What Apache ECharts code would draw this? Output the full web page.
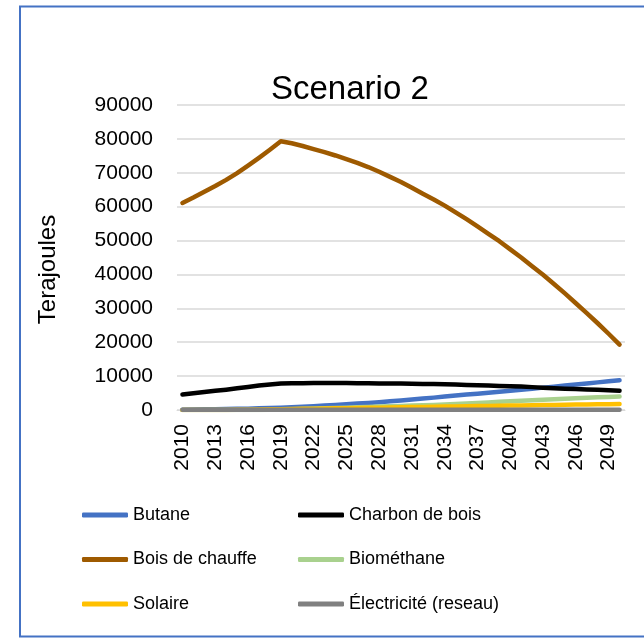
<!DOCTYPE html>
<html>
<head>
<meta charset="utf-8">
<script src="https://cdn.jsdelivr.net/npm/echarts@6/dist/echarts.min.js"></script>
<style>
  html, body { margin: 0; padding: 0; background: #fff; }
  #chart { width: 644px; height: 639px; }
</style>
</head>
<body>
<div id="chart"></div>
<script>
const years = [];
for (let y = 2010; y <= 2050; y++) years.push(String(y));

const yTicks = [0, 10000, 20000, 30000, 40000, 50000, 60000, 70000, 80000, 90000];

const butane = [100, 150, 200, 250, 300, 350, 400, 480, 560, 650,
  800, 950, 1100, 1300, 1500, 1700, 1900, 2100, 2300, 2550,
  2800, 3100, 3400, 3650, 3950, 4250, 4550, 4800, 5100, 5400,
  5700, 6000, 6300, 6600, 6900, 7200, 7500, 7850, 8150, 8500, 8800];

const charbon = [4600, 4950, 5300, 5650, 6000, 6400, 6800, 7200, 7550, 7850,
  7900, 7900, 7950, 7950, 7950, 7950, 7900, 7900, 7850, 7850,
  7800, 7750, 7700, 7650, 7600, 7500, 7400, 7300, 7200, 7100,
  7000, 6900, 6750, 6600, 6450, 6300, 6200, 6050, 5950, 5800, 5700];

const bois = [61100, 62700, 64400, 66100, 67900, 69900, 72100, 74400, 76800, 79300,
  78700, 77900, 77000, 76100, 75100, 74000, 72900, 71700, 70300, 68800,
  67300, 65600, 63800, 62100, 60300, 58300, 56300, 54200, 52000, 49800,
  47400, 45000, 42400, 39900, 37200, 34400, 31500, 28600, 25600, 22500, 19300];

const biomethane = [0, 0, 0, 0, 0, 0, 0, 0, 50, 100,
  200, 300, 400, 500, 600, 700, 800, 900, 1000, 1100,
  1200, 1300, 1400, 1500, 1650, 1800, 1950, 2100, 2250, 2400,
  2550, 2700, 2850, 3000, 3150, 3300, 3450, 3600, 3750, 3850, 3950];

const solaire = [0, 0, 0, 0, 0, 50, 100, 150, 200, 250,
  300, 350, 400, 450, 500, 550, 600, 650, 700, 750,
  800, 850, 900, 950, 1000, 1050, 1100, 1150, 1200, 1250,
  1300, 1350, 1400, 1450, 1500, 1550, 1600, 1650, 1700, 1700, 1750];

const electricite = [50, 50, 50, 50, 50, 50, 50, 50, 50, 50,
  50, 50, 50, 50, 50, 50, 50, 50, 50, 50,
  50, 50, 50, 50, 50, 50, 50, 50, 50, 50,
  50, 50, 50, 50, 50, 50, 50, 50, 50, 50, 50];

const names = ['Butane', 'Charbon de bois', 'Bois de chauffe', 'Biométhane', 'Solaire', 'Électricité (reseau)'];
const colors = ['#4472C4', '#000000', '#9E5A00', '#A9D18E', '#FFC000', '#808080'];
const values = [butane, charbon, bois, biomethane, solaire, electricite];

const font = 'Liberation Sans';

const chart = echarts.init(document.getElementById('chart'));

const series = names.map((name, i) => ({
  name: name,
  type: 'line',
  data: values[i],
  symbol: 'none',
  animation: false,
  lineStyle: { color: colors[i], width: 4.5, cap: 'round', join: 'round' },
  itemStyle: { color: colors[i] }
}));

// two legend columns, like the original two-column block
const legendBase = {
  orient: 'vertical',
  top: 506,
  padding: 0,
  icon: 'roundRect',
  itemWidth: 46,
  itemHeight: 5,
  itemGap: 26.5,
  textStyle: { fontFamily: font, fontSize: 18, color: '#000' }
};

chart.setOption({
  backgroundColor: '#fff',
  color: colors,
  title: {
    text: 'Scenario 2',
    left: 271,
    top: 73,
    padding: 0,
    textStyle: { fontFamily: font, fontSize: 33, fontWeight: 'normal', color: '#000' }
  },
  grid: { left: 177, right: 19, top: 105, bottom: 229 },
  legend: [
    Object.assign({}, legendBase, { left: 82, data: [names[0], names[2], names[4]] }),
    Object.assign({}, legendBase, { left: 298, data: [names[1], names[3], names[5]] })
  ],
  xAxis: {
    type: 'category',
    data: years,
    boundaryGap: true,
    axisLine: { lineStyle: { color: '#d9d9d9', width: 1 } },
    axisTick: { show: false },
    axisLabel: {
      interval: 2,
      rotate: 90,
      margin: 14,
      fontFamily: font,
      fontSize: 21,
      color: '#000'
    }
  },
  yAxis: {
    type: 'value',
    min: yTicks[0],
    max: yTicks[yTicks.length - 1],
    interval: 10000,
    name: 'Terajoules',
    nameLocation: 'middle',
    nameGap: 117,
    nameTextStyle: { fontFamily: font, fontSize: 24, color: '#000', padding: [0, 24, 0, 0] },
    axisLine: { show: false },
    axisTick: { show: false },
    splitLine: { lineStyle: { color: '#d9d9d9', width: 1.5 } },
    axisLabel: {
      margin: 24,
      fontFamily: font,
      fontSize: 21,
      color: '#000',
      formatter: v => String(v)
    }
  },
  graphic: [{
    type: 'rect',
    shape: { x: 20, y: 6.5, width: 700, height: 630 },
    style: { fill: 'none', stroke: '#4472C4', lineWidth: 2 },
    silent: true
  }],
  series: series
});
</script>
</body>
</html>
